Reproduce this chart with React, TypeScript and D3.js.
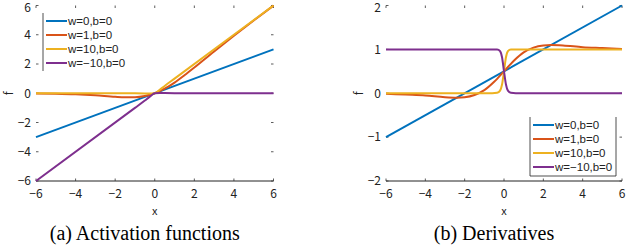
import React from "react";
import * as d3 from "d3";

// legend labels and colours (MATLAB default order)
const seriesLabels = ["w=0,b=0", "w=1,b=0", "w=10,b=0", "w=\u221210,b=0"];
const seriesColors = ["#0072BD", "#D95319", "#EDB120", "#7E2F8E"];

const xTicks = [-6, -4, -2, 0, 2, 4, 6];
const actTicks = [-6, -4, -2, 0, 2, 4, 6];
const derTicks = [-2, -1, 0, 1, 2];

// (a) activation functions
const actW0: [number, number][] = [[-6, -3], [6, 3]];
const actW1: [number, number][] = [
  [-6, -0.01], [-5, -0.03], [-4, -0.07], [-3, -0.14], [-2, -0.24], [-1.5, -0.27],
  [-1, -0.27], [-0.5, -0.19], [0, 0], [0.5, 0.31], [1, 0.73], [1.5, 1.23],
  [2, 1.76], [3, 2.86], [4, 3.93], [5, 4.97], [6, 5.99],
];
const actW10: [number, number][] = [
  [-6, 0], [-1, 0], [-0.5, -0.01], [-0.25, -0.02], [0, 0], [0.25, 0.23],
  [0.5, 0.5], [1, 1], [6, 6],
];
const actWm10: [number, number][] = [
  [-6, -6], [-1, -1], [-0.5, -0.5], [-0.25, -0.23], [0, 0], [0.25, 0.02],
  [0.5, 0.01], [1, 0], [6, 0],
];

// (b) derivatives
const derW0: [number, number][] = [[-6, -1], [6, 2]];
const derW1: [number, number][] = [
  [-6, -0.01], [-5, -0.03], [-4, -0.05], [-3, -0.09], [-2.4, -0.1], [-2, -0.09],
  [-1.5, -0.04], [-1, 0.07], [-0.5, 0.26], [0, 0.5], [0.5, 0.74], [1, 0.93],
  [1.5, 1.04], [2, 1.09], [2.4, 1.1], [3, 1.09], [4, 1.05], [5, 1.03], [6, 1.01],
];
const derW10: [number, number][] = [
  [-6, 0], [-0.6, 0], [-0.35, 0.01], [-0.2, 0.06], [-0.1, 0.2], [0, 0.5],
  [0.1, 0.82], [0.2, 0.96], [0.35, 1], [0.6, 1], [6, 1],
];
const derWm10: [number, number][] = [
  [-6, 1], [-0.6, 1], [-0.35, 1], [-0.2, 0.96], [-0.1, 0.82], [0, 0.5],
  [0.1, 0.2], [0.2, 0.06], [0.35, 0.01], [0.6, 0], [6, 0],
];

const tickFont = "'Noto Sans CJK JP', 'Noto Sans', sans-serif";
const legendFont = "'Liberation Sans', Arial, sans-serif";

type PanelProps = {
  left: number;
  right: number;
  yDomain: [number, number];
  yTicks: number[];
  series: [number, number][][];
  legend: { x: number; y: number; boxed: boolean };
  caption: string;
};

function Panel({ left, right, yDomain, yTicks, series, legend, caption }: PanelProps) {
  const top = 5.5;
  const bottom = 181;
  const x = d3.scaleLinear().domain([-6, 6]).range([left, right]);
  const y = d3.scaleLinear().domain(yDomain).range([bottom, top]);
  const line = d3
    .line<[number, number]>()
    .x((d) => x(d[0]))
    .y((d) => y(d[1]))
    .curve(d3.curveMonotoneX);
  const tl = 2.5;
  const rowH = 14;

  return (
    <g>
      {/* ticks on all sides, only the bottom axis line */}
      <line x1={left} x2={right} y1={bottom} y2={bottom} stroke="#222" strokeWidth={1} />
      {xTicks.map((t) => (
        <g key={"x" + t}>
          <line x1={x(t)} x2={x(t)} y1={bottom} y2={bottom - tl} stroke="#333" strokeWidth={0.8} />
          <line x1={x(t)} x2={x(t)} y1={top} y2={top + tl} stroke="#333" strokeWidth={0.8} />
          <text x={x(t)} y={bottom + 17} fontSize={12} textAnchor="middle" fontFamily={tickFont} fill="#222">
            {t < 0 ? "\u2212" + Math.abs(t) : t}
          </text>
        </g>
      ))}
      {yTicks.map((t) => (
        <g key={"y" + t}>
          <line x1={left} x2={left + tl} y1={y(t)} y2={y(t)} stroke="#333" strokeWidth={0.8} />
          <line x1={right} x2={right - tl} y1={y(t)} y2={y(t)} stroke="#333" strokeWidth={0.8} />
          <text
            x={left - 5}
            y={Math.max(y(t), 7.5)}
            dy="0.36em"
            fontSize={12}
            textAnchor="end"
            fontFamily={tickFont}
            fill="#222"
          >
            {t < 0 ? "\u2212" + Math.abs(t) : t}
          </text>
        </g>
      ))}
      <text x={(left + right) / 2} y={215} fontSize={11} textAnchor="middle" fontFamily={tickFont} fill="#222">
        x
      </text>
      <text
        transform={`translate(${left - 23},${y(0)}) rotate(-90)`}
        fontSize={12}
        textAnchor="middle"
        fontFamily={tickFont}
        fill="#222"
      >
        f
      </text>

      {series.map((s, i) => (
        <path key={i} d={line(s) ?? ""} fill="none" stroke={seriesColors[i]} strokeWidth={2} />
      ))}

      {/* legend */}
      {legend.boxed ? (
        <path
          d={`M${legend.x},${legend.y} V${legend.y + 4 * rowH + 3} H${legend.x + 86} V${legend.y}`}
          fill="white"
          stroke="#222"
          strokeWidth={0.8}
        />
      ) : (
        <line x1={legend.x} x2={legend.x} y1={legend.y} y2={legend.y + 4 * rowH + 2} stroke="#222" strokeWidth={0.8} />
      )}
      {seriesLabels.map((lab, i) => {
        const ry = legend.y + 8 + i * rowH;
        return (
          <g key={lab}>
            <line x1={legend.x + 3} x2={legend.x + 24} y1={ry} y2={ry} stroke={seriesColors[i]} strokeWidth={2} />
            <text x={legend.x + 25} y={ry} dy="0.36em" fontSize={11.5} fontFamily={legendFont} fill="#222">
              {lab}
            </text>
          </g>
        );
      })}

      <text
        x={(left + right) / 2 - 10}
        y={240}
        fontSize={20}
        textAnchor="middle"
        fontFamily="'Liberation Serif', 'Times New Roman', serif"
        fill="#000"
      >
        {caption}
      </text>
    </g>
  );
}

export default function App() {
  return (
    <svg
      width={626}
      height={250}
      style={{ position: "absolute", left: 0, top: 0, background: "#fff" }}
    >
      <Panel
        left={36}
        right={273.5}
        yDomain={[-6, 6]}
        yTicks={actTicks}
        series={[actW0, actW1, actW10, actWm10]}
        legend={{ x: 43, y: 13, boxed: false }}
        caption="(a) Activation functions"
      />
      <Panel
        left={386}
        right={622}
        yDomain={[-2, 2]}
        yTicks={derTicks}
        series={[derW0, derW1, derW10, derWm10]}
        legend={{ x: 530, y: 117, boxed: true }}
        caption="(b) Derivatives"
      />
    </svg>
  );
}
